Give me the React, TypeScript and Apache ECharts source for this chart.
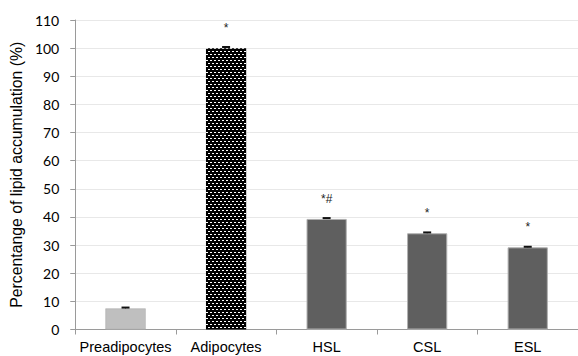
import React, { useEffect, useRef } from "react";
import * as echarts from "echarts";

const categories = ["Preadipocytes", "Adipocytes", "HSL", "CSL", "ESL"];
const values = [7.5, 100, 39.3, 34.2, 29.2];
const errors = [0.3, 0.4, 0.3, 0.3, 0.2];
const marks = ["", "*", "*#", "*", "*"];
const yTickMin = 0;
const yTickMax = 110;
const yTickStep = 10;
const yTitle = "Percentange of lipid accumulation (%)";

export default function App() {
  const ref = useRef<HTMLDivElement>(null);
  useEffect(() => {
    if (!ref.current) return;
    const chart = echarts.init(ref.current, undefined, { renderer: "svg" });
    const barData = values.map((v, i) => {
      if (i === 0) {
        return { value: v, itemStyle: { color: "#bfbfbf", borderColor: "#a6a6a6", borderWidth: 0.5 } };
      }
      if (i === 1) {
        return {
          value: v,
          itemStyle: {
            color: "#000000",
            decal: {
              symbol: "rect",
              symbolSize: 1,
              color: "#ffffff",
              backgroundColor: "#000000",
              dashArrayX: [[2, 2], [0, 2, 2, 0]],
              dashArrayY: [1, 2],
              rotation: 0,
            },
          },
        };
      }
      return { value: v, itemStyle: { color: "#5f5f5f", borderColor: "#b0b0b0", borderWidth: 1 } };
    });
    chart.setOption({
      animation: false,
      backgroundColor: "#ffffff",
      grid: { left: 75, right: -8.5, top: 20, bottom: 26.5, containLabel: false },
      xAxis: {
        type: "category",
        data: categories,
        axisLine: { lineStyle: { color: "#9a9a9a", width: 1 } },
        axisTick: { show: true, length: 5, lineStyle: { color: "#9a9a9a" } },
        axisLabel: {
          interval: 0,
          color: "#000000",
          fontFamily: "Liberation Sans, Arial, sans-serif",
          fontSize: 14.5,
          margin: 10,
        },
      },
      yAxis: {
        type: "value",
        min: yTickMin,
        max: yTickMax,
        interval: yTickStep,
        name: yTitle,
        nameLocation: "middle",
        nameGap: 48,
        nameTextStyle: { color: "#000000", fontFamily: "Liberation Sans, Arial, sans-serif", fontSize: 15.8 },
        axisLine: { show: true, lineStyle: { color: "#9a9a9a" } },
        axisTick: { show: true, length: 5, lineStyle: { color: "#9a9a9a" } },
        axisLabel: { color: "#000000", fontFamily: "Lato, sans-serif", fontSize: 14, margin: 16 },
        splitLine: { lineStyle: { color: "#e8e8e8", width: 1 } },
      },
      series: [
        {
          type: "bar",
          data: barData,
          barCategoryGap: "60%",
          label: {
            show: true,
            position: "top",
            distance: 14,
            color: "#222222",
            fontFamily: "Liberation Sans, Arial, sans-serif",
            fontSize: 12,
            formatter: (p: any) => marks[p.dataIndex],
          },
        },
        {
          type: "custom",
          data: values.map((v, i) => [i, v, v + errors[i]]),
          z: 10,
          renderItem: (params: any, api: any) => {
            const i = api.value(0);
            const lo = api.coord([i, api.value(1)]);
            const hi = api.coord([i, api.value(2)]);
            return {
              type: "group",
              children: [
                {
                  type: "line",
                  shape: { x1: hi[0], y1: hi[1], x2: lo[0], y2: lo[1] },
                  style: { stroke: "#111111", lineWidth: 1 },
                },
                {
                  type: "line",
                  shape: { x1: hi[0] - 4, y1: hi[1], x2: hi[0] + 4, y2: hi[1] },
                  style: { stroke: "#111111", lineWidth: 2 },
                },
              ],
            };
          },
        },
      ],
    });
    return () => chart.dispose();
  }, []);
  return (
    <div
      ref={ref}
      style={{ position: "fixed", left: 0, top: 0, width: 578, height: 356 }}
    />
  );
}
